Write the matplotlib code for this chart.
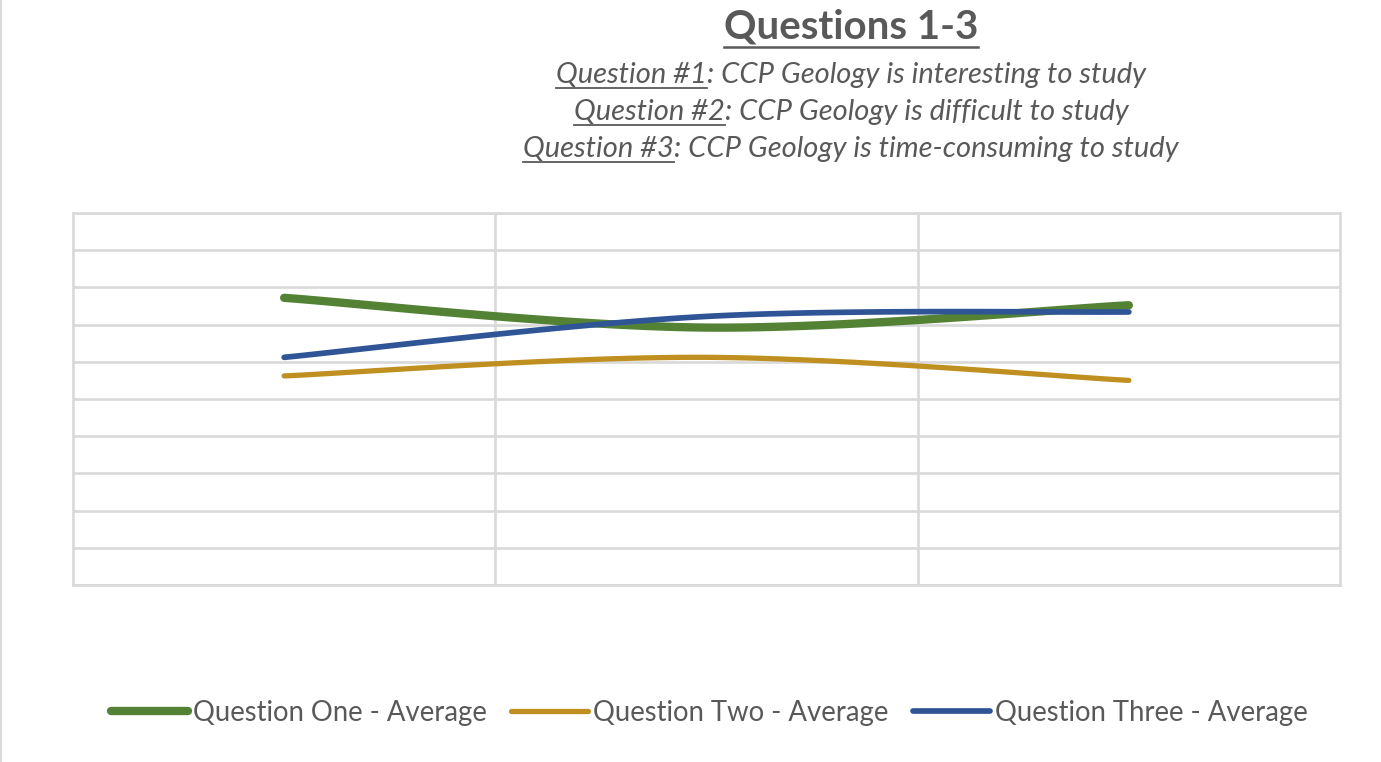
import numpy as np
import matplotlib
matplotlib.use("Agg")
import matplotlib.pyplot as plt
from matplotlib.lines import Line2D

# ---- data ----
categories = ["Cat 1", "Cat 2", "Cat 3"]
q1_avg = [3.86, 3.46, 3.76]
q2_avg = [2.81, 3.06, 2.75]
q3_avg = [3.06, 3.61, 3.67]
series_names = ["Question One - Average", "Question Two - Average", "Question Three - Average"]
series_colors = ["#548235", "#BF901F", "#2F5597"]
series_widths = [6.0, 3.8, 4.1]
title = "Questions 1-3"
sub_labels = ["Question #1", "Question #2", "Question #3"]
sub_texts = [": CCP Geology is interesting to study",
             ": CCP Geology is difficult to study",
             ": CCP Geology is time-consuming to study"]

TXT = "#595959"
GRID = "#D9D9D9"
FONT = ["Lato", "DejaVu Sans"]
plt.rcParams["font.family"] = FONT

W, H = 1381, 762
fig = plt.figure(figsize=(W / 100, H / 100), dpi=100)
fig.patch.set_facecolor("white")
ax = fig.add_axes([73 / W, (H - 585) / H, (1340 - 73) / W, (585 - 213) / H])


def excel_smooth(xs, ys, n=60):
    pts = np.column_stack([xs, ys]).astype(float)
    m = len(pts)
    out = [pts[:1]]
    t = np.linspace(0, 1, n)[1:, None]
    for i in range(m - 1):
        p0 = pts[i - 1] if i > 0 else pts[i]
        p1, p2 = pts[i], pts[i + 1]
        p3 = pts[i + 2] if i + 2 < m else pts[i + 1]
        c1 = p1 + (p2 - p0) / 6.0
        c2 = p2 - (p3 - p1) / 6.0
        seg = ((1 - t) ** 3) * p1 + 3 * ((1 - t) ** 2) * t * c1 + 3 * (1 - t) * t ** 2 * c2 + t ** 3 * p2
        out.append(seg)
    arr = np.vstack(out)
    return arr[:, 0], arr[:, 1]


x = np.arange(len(categories))
for vals, name, col, lw in zip([q1_avg, q2_avg, q3_avg], series_names, series_colors, series_widths):
    sx, sy = excel_smooth(x, vals)
    ax.plot(sx, sy, color=col, lw=lw, solid_capstyle="round", label=name, zorder=3)

ax.set_xlim(-0.5, len(categories) - 0.5)
ax.set_ylim(0, 5)
ax.set_yticks(np.arange(0, 5.01, 0.5))
ax.set_xticks(np.arange(0.5, len(categories) - 0.5, 1))
ax.grid(True, color=GRID, lw=1.9)
ax.tick_params(length=0, labelleft=False, labelbottom=False)
for s in ax.spines.values():
    s.set_color(GRID)
    s.set_linewidth(1.9)
ax.set_axisbelow(True)

leg = ax.legend(loc="center", bbox_to_anchor=(709.5 / W, (H - 713) / H),
                bbox_transform=fig.transFigure, ncol=3, frameon=False,
                fontsize=19.8, handlelength=2.8, handletextpad=0.18,
                columnspacing=0.9, labelcolor=TXT, borderpad=0)

# ---- title and subtitles with underlines ----
cx = 851
fig.canvas.draw()
renderer = fig.canvas.get_renderer()


def px2fig(px, py):
    return px / W, (H - py) / H


def underline(x0, x1, ybase_px, off, lw):
    fx0, fy = px2fig(x0, ybase_px + off)
    fx1, _ = px2fig(x1, ybase_px + off)
    fig.add_artist(Line2D([fx0, fx1], [fy, fy], color=TXT, lw=lw, transform=fig.transFigure))


tx, ty = px2fig(cx, 39)
t = fig.text(tx, ty, title, ha="center", va="baseline", fontsize=29, fontweight="bold", color=TXT)
bb = t.get_window_extent(renderer)
underline(bb.x0, bb.x1, 39, 8, 1.8)

baselines = [83, 120, 157]
for lab, rest, yb in zip(sub_labels, sub_texts, baselines):
    t1 = fig.text(0, 0, lab, ha="left", va="baseline", fontsize=21, fontstyle="italic", color=TXT)
    t2 = fig.text(0, 0, rest, ha="left", va="baseline", fontsize=21, fontstyle="italic", color=TXT)
    w1 = t1.get_window_extent(renderer).width
    w2 = t2.get_window_extent(renderer).width
    x0 = cx - (w1 + w2) / 2
    t1.set_position(px2fig(x0, yb))
    t2.set_position(px2fig(x0 + w1, yb))
    underline(x0, x0 + w1, yb, 5, 1.3)

fig.add_artist(Line2D([0.7 / W, 0.7 / W], [0, 1], color=GRID, lw=1.5, transform=fig.transFigure))

fig.savefig("out.png", dpi=100, facecolor="white")
